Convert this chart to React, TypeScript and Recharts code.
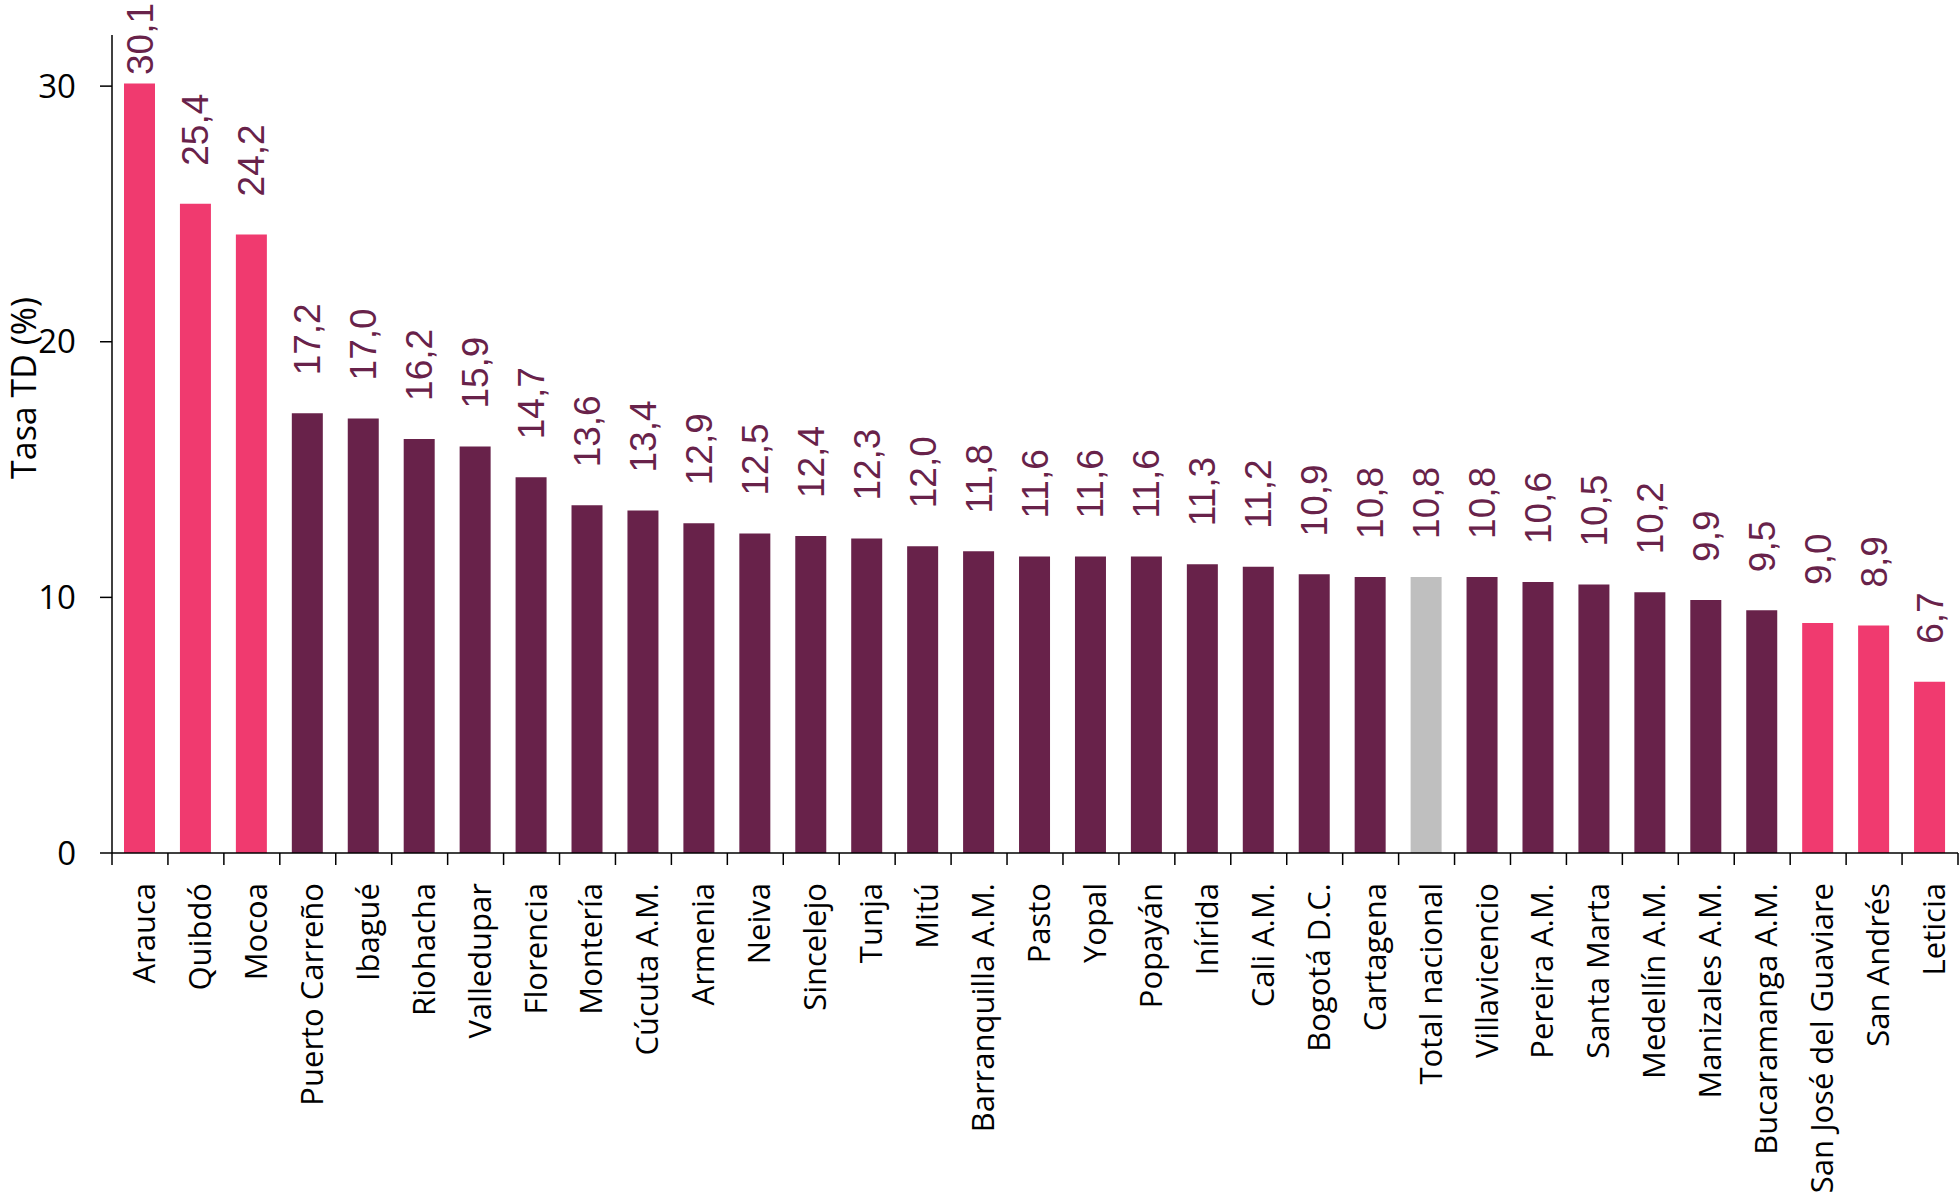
import { BarChart, Bar, XAxis, YAxis, Cell, LabelList } from 'recharts'

const cities = [
  'Arauca', 'Quibdó', 'Mocoa', 'Puerto Carreño', 'Ibagué', 'Riohacha', 'Valledupar',
  'Florencia', 'Montería', 'Cúcuta A.M.', 'Armenia', 'Neiva', 'Sincelejo', 'Tunja',
  'Mitú', 'Barranquilla A.M.', 'Pasto', 'Yopal', 'Popayán', 'Inírida', 'Cali A.M.',
  'Bogotá D.C.', 'Cartagena', 'Total nacional', 'Villavicencio', 'Pereira A.M.',
  'Santa Marta', 'Medellín A.M.', 'Manizales A.M.', 'Bucaramanga A.M.',
  'San José del Guaviare', 'San Andrés', 'Leticia',
]

const rates = [
  30.1, 25.4, 24.2, 17.2, 17.0, 16.2, 15.9, 14.7, 13.6, 13.4, 12.9, 12.5, 12.4, 12.3,
  12.0, 11.8, 11.6, 11.6, 11.6, 11.3, 11.2, 10.9, 10.8, 10.8, 10.8, 10.6, 10.5, 10.2,
  9.9, 9.5, 9.0, 8.9, 6.7,
]

// 'ext' = extremos (rosa), 'mid' = resto, 'nal' = total nacional
const kinds = [
  'ext', 'ext', 'ext', 'mid', 'mid', 'mid', 'mid', 'mid', 'mid', 'mid', 'mid', 'mid',
  'mid', 'mid', 'mid', 'mid', 'mid', 'mid', 'mid', 'mid', 'mid', 'mid', 'mid', 'nal',
  'mid', 'mid', 'mid', 'mid', 'mid', 'mid', 'ext', 'ext', 'ext',
]

const yTicks = [0, 10, 20, 30]

const colors: Record<string, string> = { ext: '#F03A6F', mid: '#68224A', nal: '#BFBFBF' }
const LABEL = '#68224A'

const W = 1960
const H = 1196
const M = { top: 35, right: 2, left: 0, bottom: 0 }
const X_H = 343
const Y_W = 112
const BAND = (W - M.left - M.right - Y_W) / cities.length

const data = cities.map((city, i) => ({ city, td: rates[i], kind: kinds[i] }))

const fmt = (v: number) => v.toFixed(1).replace('.', ',')

function CityTick(props: any) {
  const { x, y, payload, index } = props
  const half = BAND / 2
  const tx = x + 15
  const ty = y + 30
  return (
    <g>
      <line x1={x - half} x2={x - half} y1={y} y2={y + 12} stroke="#000" strokeWidth={1.5} />
      {index === cities.length - 1 && (
        <line x1={x + half} x2={x + half} y1={y} y2={y + 12} stroke="#000" strokeWidth={1.5} />
      )}
      <text
        x={tx}
        y={ty}
        transform={`rotate(-90, ${tx}, ${ty})`}
        textAnchor="end"
        fontSize={31}
        fontFamily="'Open Sans', sans-serif"
        fill="#000"
      >
        {payload.value}
      </text>
    </g>
  )
}

function ValueLabel(props: any) {
  const { x, y, width, value } = props
  const cx = Number(x) + Number(width) / 2 + 13
  const by = Math.max(Number(y) - 38, 75)
  return (
    <text
      x={cx}
      y={by}
      transform={`rotate(-90, ${cx}, ${by})`}
      textAnchor="start"
      fontSize={37}
      fontFamily="'Liberation Sans', Arial, sans-serif"
      fill={LABEL}
    >
      {fmt(Number(value))}
    </text>
  )
}

export default function App() {
  return (
    <div style={{ position: 'absolute', left: 0, top: 0, background: '#fff' }}>
      <BarChart width={W} height={H} data={data} margin={M}>
        <XAxis
          dataKey="city"
          interval={0}
          tickSize={0}
          tickMargin={0}
          tickLine={false}
          axisLine={{ stroke: '#000', strokeWidth: 1.5 }}
          tick={<CityTick />}
          height={X_H}
        />
        <YAxis
          type="number"
          domain={[0, 32]}
          ticks={yTicks}
          width={Y_W}
          tickSize={12}
          tickMargin={24}
          axisLine={{ stroke: '#000', strokeWidth: 1.5 }}
          tickLine={{ stroke: '#000', strokeWidth: 1.5 }}
          tick={{ fontSize: 33, fill: '#000', fontFamily: "'Open Sans', sans-serif" }}
          label={{
            content: () => (
              <text
                x={36}
                y={388}
                transform="rotate(-90, 36, 388)"
                textAnchor="middle"
                fontSize={34}
                fontFamily="'Open Sans', sans-serif"
                fill="#000"
              >
                Tasa TD (%)
              </text>
            ),
          }}
        />
        <Bar dataKey="td" barSize={31} isAnimationActive={false}>
          {data.map((d) => (
            <Cell key={d.city} fill={colors[d.kind]} />
          ))}
          <LabelList dataKey="td" content={<ValueLabel />} />
        </Bar>
      </BarChart>
    </div>
  )
}
